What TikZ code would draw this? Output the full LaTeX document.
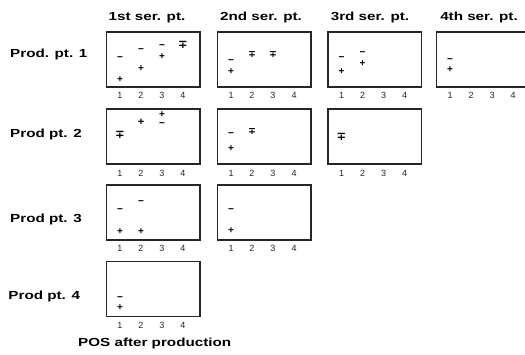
\documentclass[tikz,border=0pt]{standalone}
\usepackage{fontspec}
\setmainfont{Liberation Sans}
\newfontfamily\lblfont{Liberation Sans}[FakeStretch=1.3]
\newfontfamily\symfont{DejaVu Sans}
\newcommand\mkpanel[3]{%
  \node[box] (#1) at (#2,#3) {};
  \foreach \i in {1,...,4}
    \node[tick] (#1-t\i) at ({#2+14.5+21*(\i-1)},{#3+55+12.7}) {\i};
}
\newcommand\plsign[3]{\node[sgn] (#1) at (#2,#3) {+};}
\newcommand\misign[3]{\node[sgn] (#1) at (#2,#3) {−};}
\newcommand\mpsign[3]{\node[sgnmp] (#1) at (#2,#3) {∓};}
\newcommand\mpbig[3]{\node[sgnmpb] (#1) at (#2,#3) {∓};}
\begin{document}
\begin{tikzpicture}[x=1pt,y=-1pt,
  box/.style={draw=black!85, line width=1.5pt, minimum width=93.5pt, minimum height=55pt, anchor=north west, inner sep=0pt},
  hdr/.style={font=\lblfont\bfseries\fontsize{11.7}{14}\selectfont, anchor=base, inner sep=0pt},
  rowlbl/.style={hdr, anchor=base west},
  tick/.style={font=\fontsize{9}{10}\selectfont, anchor=base, inner sep=0pt, text=black!85},
  sgn/.style={font=\bfseries\fontsize{10}{12}\selectfont, anchor=base, inner sep=0pt, yshift=-3.4pt},
  sgnmp/.style={font=\symfont\bfseries\fontsize{9.5}{12}\selectfont, anchor=base, inner sep=0pt, yshift=-3.3pt},
  sgnmpb/.style={font=\symfont\bfseries\fontsize{11.5}{12}\selectfont, anchor=base, inner sep=0pt, yshift=-4pt},
  sgnpm/.style={font=\bfseries\fontsize{11}{12}\selectfont, anchor=base, inner sep=0pt, yshift=-3.7pt},
]
\path[use as bounding box, clip] (0,0) rectangle (525,354);
\fill[white] (0,0) rectangle (525,354);
% headers
\node[hdr] (h1) at (147,20) {1st ser. pt.};
\node[hdr] (h2) at (261,20) {2nd ser. pt.};
\node[hdr] (h3) at (370,20) {3rd ser. pt.};
\node[hdr] (h4) at (479,20) {4th ser. pt.};
% row labels
\node[rowlbl] (r1) at (10,57) {Prod. pt. 1};
\node[rowlbl] (r2) at (10,137) {Prod pt. 2};
\node[rowlbl] (r3) at (10,222) {Prod pt. 3};
\node[rowlbl] (r4) at (8.3,299) {Prod pt. 4};
\node[hdr] (pos) at (154.7,346) {POS after production};
% panels
\mkpanel{b11}{105.5}{31}
\mkpanel{b12}{216.5}{31}
\mkpanel{b13}{327}{31}
\mkpanel{b14}{435.7}{31}
\mkpanel{b21}{105.5}{108.3}
\mkpanel{b22}{216.5}{108.3}
\mkpanel{b23}{327}{108.3}
\mkpanel{b31}{105.5}{184}
\mkpanel{b32}{216.5}{184}
\mkpanel{b41}{105.5}{260.5}
% signs
\misign{m111}{120}{57.5} \plsign{p111}{120}{79.5}
\misign{m112}{141}{49.3} \plsign{p112}{141}{67.7}
\misign{m113}{162}{45}   \plsign{p113}{162}{56.5}
\mpbig{mp114}{183}{44.5}
\misign{m121}{231}{60}   \plsign{p121}{231}{71}
\mpsign{mp122}{252}{54.5}
\mpsign{mp123}{273}{54.5}
\misign{m131}{341.5}{56.7} \plsign{p131}{341.5}{71}
\misign{m132}{362.5}{52.3} \plsign{p132}{362.5}{63.3}
\misign{m141}{450}{59.5} \plsign{p141}{450}{69.5}
\mpbig{mp211}{120}{134}
\node[sgnpm] (pm212) at (141,122) {+};
\misign{m213}{162}{122.7} \plsign{p213}{162}{113.7}
\misign{m221}{231}{133}   \plsign{p221}{231}{148}
\mpsign{mp222}{252}{131}
\mpbig{mp231}{341.5}{136}
\misign{m311}{120}{209.3} \plsign{p311}{120}{231}
\misign{m312}{141}{201.3} \plsign{p312}{141}{231}
\misign{m321}{231}{209}   \plsign{p321}{231}{230.5}
\misign{m411}{120}{297.3} \plsign{p411}{120}{307.3}
\end{tikzpicture}
\end{document}
